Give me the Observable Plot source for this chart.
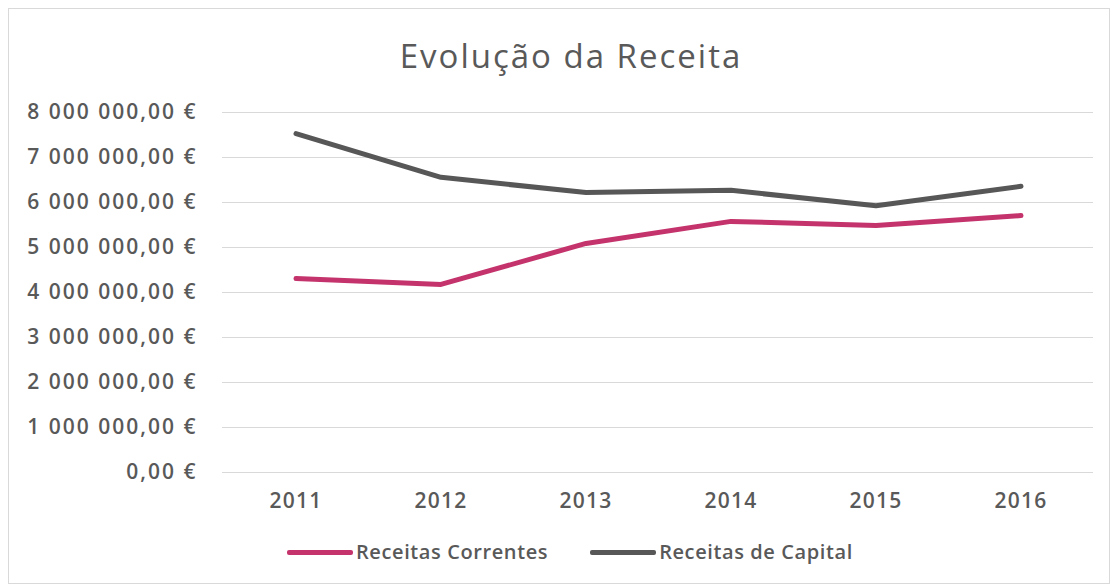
<!DOCTYPE html>
<html><head><meta charset="utf-8">
<script src="https://cdn.jsdelivr.net/npm/d3@7"></script>
<script src="https://cdn.jsdelivr.net/npm/@observablehq/plot@0.6"></script>
<style>
body{margin:0;background:#fff;font-family:"Open Sans",Lato,sans-serif;}
#wrap{position:absolute;left:8px;top:8px;width:1102px;height:576px;border:1px solid #d9d9d9;box-sizing:border-box;}
h1{position:absolute;left:0;width:1142px;top:34px;margin:0;text-align:center;font-weight:400;font-size:33px;line-height:44px;color:#595959;letter-spacing:2px;}
#chart{position:absolute;left:0;top:90px;}
#legend{position:absolute;left:287px;top:539px;display:flex;gap:42px;font-size:20px;font-weight:600;color:#595959;line-height:26px;letter-spacing:0.6px;}
.li{display:flex;align-items:center;}
.sw{display:inline-block;width:66px;height:5px;margin-right:3px;border-radius:2px;}
</style></head>
<body>
<div id="wrap"></div>
<h1>Evolução da Receita</h1>
<div id="chart"></div>
<div id="legend"></div>
<script>
const years = ["2011","2012","2013","2014","2015","2016"];
const receitasCorrentes = [4310000, 4180000, 5090000, 5580000, 5490000, 5710000];
const receitasCapital = [7530000, 6560000, 6220000, 6270000, 5930000, 6360000];
const seriesNames = ["Receitas Correntes", "Receitas de Capital"];
const seriesColors = ["#c4336b", "#575757"];
const yTicks = [0,1000000,2000000,3000000,4000000,5000000,6000000,7000000,8000000];

const data = [];
years.forEach((y,i)=>{
  data.push({year:y, value:receitasCorrentes[i], series:seriesNames[0]});
  data.push({year:y, value:receitasCapital[i], series:seriesNames[1]});
});
const loc = d3.formatLocale({decimal:",", thousands:"\u00a0", grouping:[3], currency:["","\u00a0€"]});
const fmt = v => loc.format(",.2f")(v) + "\u00a0€";

const chart = Plot.plot({
  width:1115, height:440,
  marginLeft:222, marginRight:22, marginTop:22, marginBottom:58,
  style:{fontFamily:"'Open Sans', Lato, sans-serif", fontSize:"21px", fontWeight:600, color:"#595959", background:"transparent"},
  x:{type:"band", domain:years, padding:0, label:null},
  y:{domain:[0,8000000], ticks:yTicks, label:null},
  color:{domain:seriesNames, range:seriesColors},
  marks:[
    Plot.ruleY(yTicks, {stroke:"#d9d9d9", strokeWidth:1}),
    Plot.axisY({ticks:yTicks, tickSize:0, tickPadding:25, tickFormat:fmt, label:null, fontSize:21}),
    Plot.axisX({tickSize:0, tickPadding:21, label:null, fontSize:21}),
    Plot.line(data, {x:"year", y:"value", z:"series", stroke:"series", strokeWidth:5, strokeLinejoin:"round"})
  ]
});
chart.querySelectorAll("[aria-label='y-axis tick label'] text").forEach(t=>t.setAttribute("letter-spacing","2"));
chart.querySelectorAll("[aria-label='x-axis tick label'] text").forEach(t=>t.setAttribute("letter-spacing","1.2"));
document.getElementById("chart").appendChild(chart);

const leg = document.getElementById("legend");
seriesNames.forEach((n,i)=>{
  const d = document.createElement("div"); d.className="li";
  d.innerHTML = `<span class="sw" style="background:${seriesColors[i]}"></span><span>${n}</span>`;
  leg.appendChild(d);
});
</script>
</body></html>
